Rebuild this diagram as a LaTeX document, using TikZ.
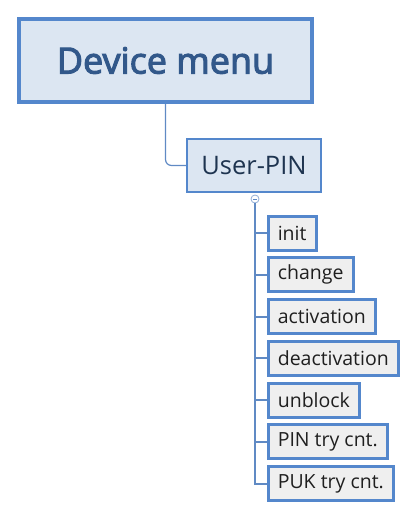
\documentclass[tikz,border=0pt]{standalone}
\usepackage{fontspec}
\setmainfont{Open Sans}
\newfontface\rootfont{Open Sans}[FakeBold=3]
\usetikzlibrary{positioning}
\definecolor{rootfill}{RGB}{220,230,242}
\definecolor{rootline}{RGB}{84,135,204}
\definecolor{roottext}{RGB}{50,88,138}
\definecolor{pintext}{RGB}{30,52,80}
\definecolor{leaffill}{RGB}{239,239,239}
\definecolor{wire}{RGB}{96,138,196}

\begin{document}
\begin{tikzpicture}[x=1pt,y=-1pt,
   root/.style={draw=rootline,line width=4pt,fill=rootfill,minimum width=293pt,
     minimum height=83pt,font=\rootfont\fontsize{36}{38}\selectfont,text=roottext},
   topic/.style={draw=rootline,line width=2pt,fill=rootfill,minimum width=134pt,
     minimum height=53pt,font=\fontsize{25.5}{28}\selectfont,text=pintext},
   leaf/.style={draw=rootline,line width=3pt,fill=leaffill,anchor=west,
     minimum height=34pt,inner xsep=9.8pt,font=\fontsize{19.5}{22}\selectfont,text=black!88},
   link/.style={draw=wire,line width=1.2pt,rounded corners=6pt},
   branch/.style={draw=wire,line width=2pt}]
  \useasboundingbox (0,0) rectangle (419,519);
  \node[root] (dm) at (165.5,60.5) {Device menu};
  \node[topic] (pin) at (254,165.5) {User-PIN};
  \draw[link] (dm.south) |- (pin.west);
  % collapse toggle below the topic
  \node[circle,draw=wire!70,fill=white,line width=0.8pt,inner sep=0pt,
     minimum size=8pt] (tg) at (255,199) {};
  \draw[wire,line width=0.8pt] ([xshift=-2pt]tg.center) -- ([xshift=2pt]tg.center);
  \foreach \i/\txt in {1/init,2/change,3/activation,4/deactivation,
                       5/unblock,6/PIN try cnt.,7/PUK try cnt.}{
    \node[leaf] (l\i) at (266.5,{233+(\i-1)*41.75}) {\txt};
    \draw[branch] (tg.south) |- (l\i.west);
  }
\end{tikzpicture}
\end{document}
